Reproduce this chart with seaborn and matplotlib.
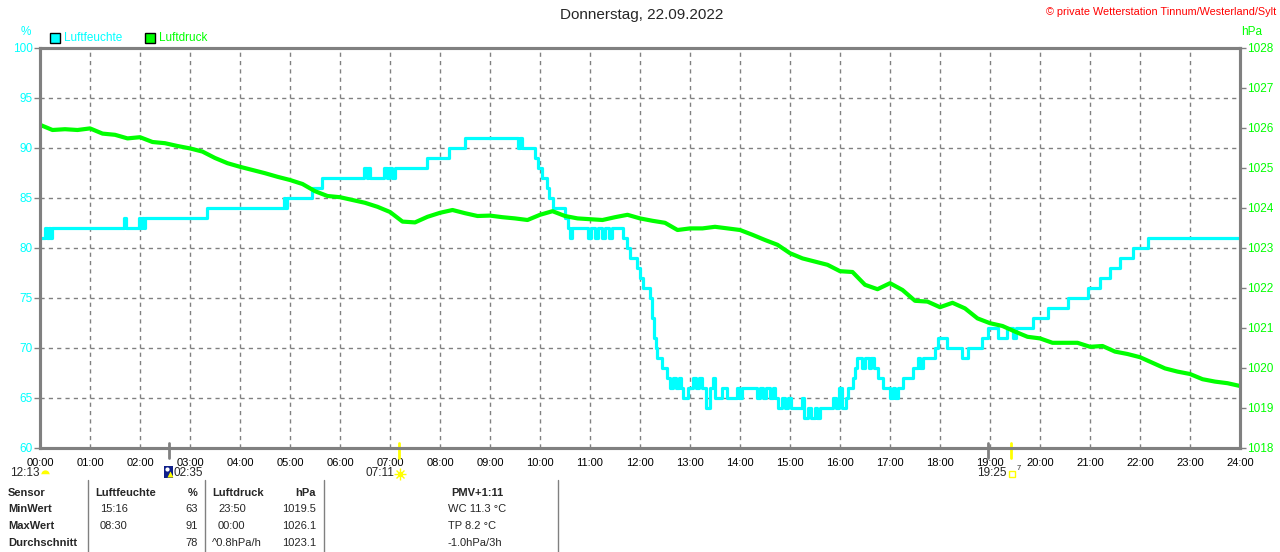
import numpy as np
import pandas as pd
import seaborn as sns
import matplotlib.pyplot as plt
from matplotlib.lines import Line2D
from matplotlib.patches import Rectangle
from matplotlib.transforms import blended_transform_factory

# humidity (step line): time in hours, value in %
hum_hours = [0.00, 0.10, 0.13, 0.17, 0.20, 0.23,
             1.67, 1.72, 1.97, 2.00, 2.04, 2.07, 2.10,
             3.33, 4.87, 4.90, 4.93, 5.43, 5.63,
             6.47, 6.53, 6.56, 6.60, 6.87, 6.93, 6.97, 7.03, 7.10,
             7.73, 8.18, 8.50, 9.56, 9.60, 9.63,
             9.90, 9.96, 10.04, 10.14, 10.18, 10.26, 10.50, 10.56, 10.60, 10.64,
             10.96, 11.02, 11.10, 11.16, 11.24, 11.30, 11.38, 11.44,
             11.66, 11.74, 11.80, 11.94, 12.00, 12.06, 12.20, 12.24, 12.28, 12.31, 12.34, 12.44, 12.54,
             12.60, 12.66, 12.72, 12.78, 12.82, 12.86, 12.96,
             13.06, 13.12, 13.18, 13.24, 13.32, 13.40, 13.46, 13.50, 13.64, 13.74, 13.94, 13.98, 14.04,
             14.34, 14.40, 14.46, 14.52, 14.60, 14.66, 14.70, 14.76, 14.84, 14.90, 14.96, 15.02,
             15.24, 15.28, 15.36, 15.42, 15.50, 15.54, 15.60, 15.86, 15.92, 15.98, 16.04, 16.12, 16.16,
             16.26, 16.30, 16.34, 16.44, 16.50, 16.58, 16.62, 16.68, 16.76, 16.86,
             17.00, 17.06, 17.10, 17.16, 17.26, 17.46, 17.56, 17.60, 17.66,
             17.90, 17.96, 18.14, 18.44, 18.56, 18.84, 18.96, 19.16, 19.34, 19.46, 19.52,
             19.86, 20.16, 20.56, 20.96, 21.20, 21.40, 21.60, 21.86, 22.16, 24.00]
hum_values = [81, 82, 81, 82, 81, 82,
              83, 82, 83, 82, 83, 82, 83,
              84, 85, 84, 85, 86, 87,
              88, 87, 88, 87, 88, 87, 88, 87, 88,
              89, 90, 91, 90, 91, 90,
              89, 88, 87, 86, 85, 84, 83, 82, 81, 82,
              81, 82, 81, 82, 81, 82, 81, 82,
              81, 80, 79, 78, 77, 76, 75, 73, 71, 70, 69, 68, 67,
              66, 67, 66, 67, 66, 65, 66,
              67, 66, 67, 66, 64, 66, 67, 65, 66, 65, 66, 65, 66,
              65, 66, 65, 66, 65, 66, 65, 64, 65, 64, 65, 64,
              65, 63, 64, 63, 64, 63, 64, 65, 64, 66, 64, 65, 66,
              67, 68, 69, 68, 69, 68, 69, 68, 67, 66,
              65, 66, 65, 66, 67, 68, 69, 68, 69,
              70, 71, 70, 69, 70, 71, 72, 71, 72, 71, 72,
              73, 74, 75, 76, 77, 78, 79, 80, 81, 81]

# air pressure every 15 minutes, hPa
press_hours = np.arange(0, 24.01, 0.25)
press_values = [1026.08, 1025.95, 1025.97, 1025.95, 1025.99, 1025.86, 1025.83, 1025.74,
                1025.77, 1025.65, 1025.62, 1025.55, 1025.49, 1025.41, 1025.25, 1025.12,
                1025.03, 1024.95, 1024.87, 1024.78, 1024.70, 1024.60, 1024.42, 1024.30,
                1024.27, 1024.20, 1024.13, 1024.03, 1023.90, 1023.66, 1023.64, 1023.78,
                1023.88, 1023.95, 1023.87, 1023.80, 1023.81, 1023.77, 1023.74, 1023.70,
                1023.83, 1023.92, 1023.80, 1023.74, 1023.72, 1023.70, 1023.77, 1023.83,
                1023.74, 1023.68, 1023.63, 1023.45, 1023.49, 1023.49, 1023.53, 1023.49,
                1023.45, 1023.33, 1023.20, 1023.08, 1022.87, 1022.74, 1022.66, 1022.58,
                1022.42, 1022.40, 1022.08, 1021.97, 1022.12, 1021.95, 1021.68, 1021.66,
                1021.52, 1021.63, 1021.49, 1021.24, 1021.12, 1021.05, 1020.91, 1020.78,
                1020.74, 1020.63, 1020.63, 1020.63, 1020.53, 1020.55, 1020.41, 1020.35,
                1020.27, 1020.13, 1019.99, 1019.91, 1019.85, 1019.72, 1019.66, 1019.62,
                1019.55]

hum_ticks = [60, 65, 70, 75, 80, 85, 90, 95, 100]
press_ticks = list(range(1018, 1029))
hour_labels = [f"{h:02d}:00" for h in range(25)]

# sun / moon events below the time axis
event_hours = [2 + 35 / 60, 7 + 11 / 60, 18.95, 19 + 25 / 60]
event_colors = ["#808080", "#ffff00", "#808080", "#ffff00"]

table_rows = [
    ["Sensor", "Luftfeuchte", "%", "Luftdruck", "hPa", "PMV+1:11"],
    ["MinWert", "15:16", "63", "23:50", "1019.5", "WC 11.3 °C"],
    ["MaxWert", "08:30", "91", "00:00", "1026.1", "TP 8.2 °C"],
    ["Durchschnitt", "", "78", "^0.8hPa/h", "1023.1", "-1.0hPa/3h"],
]

CYAN = "#00ffff"
GREEN = "#00ff00"
GRAY = "#808080"

sns.set_style("white")
plt.rcParams["font.family"] = ["Liberation Sans", "DejaVu Sans"]

W, H = 1280, 552
fig = plt.figure(figsize=(W / 100, H / 100), dpi=100)


def px(x, y):
    return x / W, 1 - y / H


ax = fig.add_axes([40 / W, (H - 448) / H, 1200 / W, 400 / H])
hum = pd.DataFrame({"hour": hum_hours, "value": hum_values})
sns.lineplot(data=hum, x="hour", y="value", ax=ax, color=CYAN, lw=2.3,
             drawstyle="steps-post", estimator=None)
ax.set_xlim(0, 24)
ax.set_ylim(60, 100)
ax.set_xticks(range(25))
ax.set_xticklabels(hour_labels)
ax.set_yticks(hum_ticks)
ax.set_xlabel("")
ax.set_ylabel("")
ax.grid(True, color=GRAY, ls=(0, (3, 3)), lw=1)
ax.tick_params(axis="x", colors=GRAY, labelcolor="black", labelsize=8, length=3, width=1, pad=4)
ax.tick_params(axis="y", colors=GRAY, labelcolor=CYAN, labelsize=8.5, length=4, width=1, pad=1)
for sp in ax.spines.values():
    sp.set_color(GRAY)
    sp.set_linewidth(2.2)

ax2 = ax.twinx()
press = pd.DataFrame({"hour": press_hours, "value": press_values})
sns.lineplot(data=press, x="hour", y="value", ax=ax2, color=GREEN, lw=3.0, estimator=None)
ax2.set_ylim(1018, 1028)
ax2.set_yticks(press_ticks)
ax2.set_ylabel("")
ax2.tick_params(axis="y", colors=GRAY, labelcolor=GREEN, labelsize=8.5, length=4, width=1, pad=1)
for sp in ax2.spines.values():
    sp.set_color(GRAY)
    sp.set_linewidth(2.2)
ax.set_xlim(0, 24)

# event ticks on the time axis
trans = blended_transform_factory(ax.transData, ax.transAxes)
for h, c in zip(event_hours, event_colors):
    ax.plot([h, h], [0.0125, -0.025], color=c, lw=2, transform=trans, clip_on=False, zorder=5)

# header texts
fig.text(*px(642, 15), "Donnerstag, 22.09.2022", ha="center", va="center", fontsize=11)
fig.text(*px(1276, 12), "© private Wetterstation Tinnum/Westerland/Sylt", ha="right",
         va="center", fontsize=7.8, color="red")
fig.text(*px(26, 32), "%", ha="center", va="center", fontsize=8.5, color=CYAN)
fig.text(*px(1241, 32), "hPa", ha="left", va="center", fontsize=8.5, color=GREEN)

# legend
for x0, col, lab in [(50, CYAN, "Luftfeuchte"), (145, GREEN, "Luftdruck")]:
    fx, fy = px(x0, 43)
    fig.add_artist(Rectangle((fx, fy), 10 / W, 10 / H, facecolor=col, edgecolor="black",
                             lw=1, transform=fig.transFigure))
    fig.text(*px(x0 + 14, 38), lab, ha="left", va="center", fontsize=8.5, color=col)

# sun / moon labels below the axis
fig.text(*px(10, 473), "12:13", ha="left", va="center", fontsize=8.5)
fig.add_artist(Line2D([px(45, 0)[0]], [px(0, 474)[1]], marker="o", ms=6, color="#ffff00",
                      fillstyle="top", markerfacecoloralt="white", mec="none"))
fig.add_artist(Rectangle(px(164, 478), 9 / W, 12 / H, facecolor="#10208a", edgecolor="none",
                         transform=fig.transFigure))
fig.add_artist(Line2D([px(167, 0)[0]], [px(0, 469)[1]], marker="o", ms=3, color="white", mec="none"))
fig.add_artist(Line2D([px(170, 0)[0]], [px(0, 474)[1]], marker="^", ms=4, color="#ffff00", mec="none"))
fig.text(*px(173, 473), "02:35", ha="left", va="center", fontsize=8.5)
fig.text(*px(394, 473), "07:11", ha="right", va="center", fontsize=8.5)
fig.add_artist(Line2D([px(400, 0)[0]], [px(0, 474)[1]], marker="o", ms=4,
                      color="#ffff00", mec="none"))
fig.add_artist(Line2D([px(400, 0)[0]], [px(0, 474)[1]], marker="+", ms=8,
                      color="#ffff00", mew=1))
fig.add_artist(Line2D([px(400, 0)[0]], [px(0, 474)[1]], marker="x", ms=6,
                      color="#ffff00", mew=1))
fig.text(*px(1007, 473), "19:25", ha="right", va="center", fontsize=8.5)
fig.add_artist(Line2D([px(1012, 0)[0]], [px(0, 474)[1]], marker="s", ms=4, mfc="none",
                      mec="#ffff00", mew=1))
fig.text(*px(1017, 468), "7", ha="left", va="center", fontsize=5.5)

# summary table
row_y = [493, 509, 526, 543]
for r, (row, y) in enumerate(zip(table_rows, row_y)):
    wt = "bold" if r == 0 else "normal"
    fig.text(*px(8, y), row[0], ha="left", va="center", fontsize=8, fontweight="bold")
    fig.text(*px(95 if r == 0 else 100, y), row[1], ha="left", va="center", fontsize=8, fontweight=wt)
    fig.text(*px(198, y), row[2], ha="right", va="center", fontsize=8, fontweight=wt)
    fig.text(*px(212 if r in (0, 3) else 218, y), row[3], ha="left", va="center", fontsize=8, fontweight=wt)
    fig.text(*px(316, y), row[4], ha="right", va="center", fontsize=8, fontweight=wt)
    if r == 0:
        fig.text(*px(477, y), row[5], ha="center", va="center", fontsize=8, fontweight="bold")
    else:
        fig.text(*px(448, y), row[5], ha="left", va="center", fontsize=8)
for x in [88, 205, 324, 558]:
    (x0, y0), (_, y1) = px(x, 480), px(x, 552)
    fig.add_artist(Line2D([x0, x0], [y0, y1], color=GRAY, lw=1))

fig.savefig("out.png", dpi=100)
